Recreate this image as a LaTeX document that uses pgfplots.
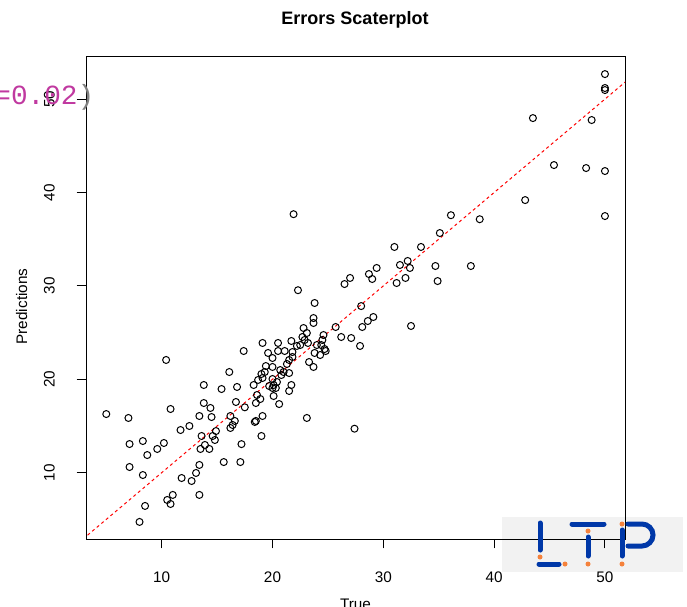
\documentclass[border=0pt]{standalone}
\usepackage{fontspec}
\setmainfont{Liberation Sans}
\newfontfamily\monofont{Liberation Mono}
\usepackage{pgfplots}
\pgfplotsset{compat=1.18}
\definecolor{ltpblue}{RGB}{0,56,168}
\definecolor{ltporange}{RGB}{245,130,60}
\definecolor{ltpgrey}{RGB}{242,242,242}
\definecolor{codemag}{RGB}{192,57,160}
\pgfplotstableread{
x y
10.4 22.07
5.0 16.28
7.0 15.86
10.8 16.82
11.7 14.57
12.5 15.00
7.1 13.07
8.3 13.39
8.7 11.89
9.6 12.54
10.2 13.18
7.1 10.61
8.3 9.75
11.8 9.43
12.7 9.11
13.1 9.97
11.0 7.62
10.5 7.08
10.8 6.65
8.5 6.44
8.0 4.73
13.4 7.62
13.4 10.83
13.5 12.54
13.6 13.93
13.9 12.97
14.3 12.54
13.4 16.07
13.8 17.46
14.4 16.93
14.5 15.96
13.8 19.39
14.9 14.46
14.6 13.93
14.8 13.50
15.4 18.96
15.6 11.14
16.1 20.78
16.8 19.18
16.7 17.57
16.2 16.07
16.6 15.54
16.4 15.11
16.2 14.79
17.4 23.03
17.5 17.00
17.1 11.14
17.2 13.06
18.4 15.43
19.1 16.07
19.0 13.93
18.5 17.46
18.9 17.89
18.3 19.39
18.7 19.93
19.1 20.14
19.0 20.57
19.3 20.78
19.4 21.42
20.0 21.32
20.0 22.28
19.6 22.82
20.5 23.03
19.1 23.89
20.5 23.89
18.6 18.32
21.7 24.10
22.2 23.57
21.1 23.03
21.8 22.92
21.8 22.39
21.5 22.07
21.3 21.64
20.7 20.99
21.0 20.78
21.5 20.67
20.8 20.46
20.0 20.03
20.1 19.39
19.7 19.28
20.4 19.71
20.0 19.07
20.3 19.07
21.7 19.39
21.5 18.75
20.1 18.21
20.6 17.35
18.5 15.54
22.3 29.54
21.9 37.68
23.8 28.17
23.7 26.56
23.7 26.03
22.8 25.49
23.1 24.96
22.7 24.53
22.9 24.21
23.2 23.89
22.5 23.67
24.6 24.74
25.7 25.60
26.2 24.53
24.0 23.67
24.5 24.21
24.4 23.67
24.7 23.24
24.8 23.03
24.3 22.60
23.8 22.82
23.3 21.85
23.7 21.32
23.1 15.86
31.0 34.17
33.4 34.17
31.5 32.24
32.2 32.67
32.4 31.92
34.7 32.13
37.9 32.13
27.0 30.85
26.5 30.20
28.7 31.27
29.4 31.92
29.0 30.74
31.2 30.31
32.0 30.85
34.9 30.52
28.0 27.84
28.1 25.60
28.6 26.24
29.1 26.67
32.5 25.71
27.1 24.42
27.9 23.57
27.4 14.71
35.1 35.66
36.1 37.57
38.7 37.14
50.0 52.68
50.0 51.19
50.0 50.97
43.5 47.97
48.8 47.76
45.4 42.94
48.3 42.62
50.0 42.30
42.8 39.19
50.0 37.48
}\errdata
\begin{document}
\begin{tikzpicture}[x=1pt,y=1pt]
\useasboundingbox (0,0) rectangle (687,606);
\fill[ltpgrey] (502,34) rectangle (683,89);
\begin{axis}[
  at={(86pt,67pt)}, anchor=south west,
  width=539pt, height=482pt, scale only axis,
  xmin=3.17, xmax=51.81, ymin=2.90, ymax=54.51,
  xtick={10,20,30,40,50}, ytick={10,20,30,40,50},
  tick pos=left,
  tick align=outside,
  major tick length=9.3pt,
  every tick/.style={black, line width=1pt},
  axis line style={line width=1pt},
  /pgf/number format/assume math mode=true,
  ticklabel style={font=\fontsize{15.3}{18}\selectfont, inner sep=0pt},
  xticklabel style={anchor=base, yshift=-34pt},
  yticklabel style={anchor=base, xshift=-22pt, rotate=90},
]
\addplot[only marks, mark=o, mark size=3.5pt, mark options={line width=1pt, black}] table[x=x, y=y] {\errdata};
\addplot[red, line width=1pt, dash pattern=on 3pt off 3pt] coordinates {(0,0) (60,60)};
\end{axis}
\begin{scope}[line width=5, line cap=round, draw=ltpblue]
\draw (540,83) -- (540,56);
\draw (539,42) -- (559,42);
\draw (572,82) -- (604,82);
\draw (588,69) -- (588,50);
\draw (622,76) -- (622,50);
\draw (628,82) -- (642,82) arc[start angle=90, end angle=-90, radius=11] -- (628,60);
\end{scope}
\foreach \p in {(540,49),(565,42),(588,75),(588,42),(622,82),(622,42)} {\fill[ltporange] \p circle (2.5);}
\node[anchor=base, inner sep=0pt, font=\fontsize{18}{21}\selectfont\bfseries] at (355,581) {Errors Scaterplot};
\node[rotate=90, anchor=base, inner sep=0pt, font=\fontsize{15.3}{18}\selectfont] at (27,299.5) {Predictions};
\node[anchor=base, inner sep=0pt, font=\fontsize{15.3}{18}\selectfont] at (355.5,-3) {True};
\node[anchor=base west, inner sep=0pt, font=\monofont\fontsize{27.7}{30}\selectfont] at (-5.8,501) {\textcolor{codemag}{=0.02}\textcolor{gray}{)}};
\end{tikzpicture}
\end{document}
